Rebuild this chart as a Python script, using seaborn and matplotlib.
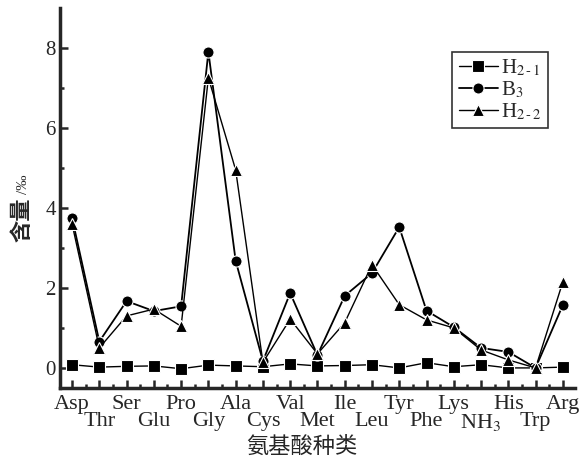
import numpy as np
import pandas as pd
import seaborn as sns
import matplotlib.pyplot as plt

# amino acids on the x axis
acids = ["Asp", "Thr", "Ser", "Glu", "Pro", "Gly", "Ala", "Cys", "Val", "Met",
         "Ile", "Leu", "Tyr", "Phe", "Lys", "NH$_3$", "His", "Trp", "Arg"]

h2_1 = [0.08, 0.02, 0.04, 0.05, -0.02, 0.07, 0.05, 0.03, 0.10, 0.05,
        0.06, 0.08, 0.00, 0.13, 0.03, 0.08, 0.00, 0.00, 0.02]
b3 = [3.75, 0.66, 1.67, 1.42, 1.54, 7.90, 2.68, 0.17, 1.87, 0.32,
      1.80, 2.37, 3.52, 1.43, 1.02, 0.50, 0.40, 0.00, 1.57]
h2_2 = [3.60, 0.50, 1.30, 1.47, 1.04, 7.25, 4.95, 0.14, 1.22, 0.35,
        1.13, 2.58, 1.58, 1.20, 1.00, 0.45, 0.20, 0.00, 2.15]

sns.set_style("ticks")
plt.rcParams['font.family'] = ['Liberation Serif', 'Noto Sans CJK SC']
plt.rcParams['mathtext.fontset'] = 'stix'

fig = plt.figure(figsize=(5.83, 4.58), dpi=100)
ax = fig.add_axes([0.103, 0.153, 0.883, 0.83])

idx = np.arange(len(acids))
series = [("H$_{2\\,\\text{-}\\,1}$", h2_1, "s", 1.0),
          ("B$_3$", b3, "o", 1.3),
          ("H$_{2\\,\\text{-}\\,2}$", h2_2, "^", 1.0)]
for name, vals, mk, lw in series:
    sns.lineplot(x=idx, y=vals, ax=ax, color="black", marker=mk, markersize=8,
                 markeredgecolor="white", markeredgewidth=0.8, linewidth=lw,
                 label=name)

ax.set_xlim(-0.44, 18.44)
ax.set_ylim(-0.5, 9.0)
ax.set_yticks([0, 2, 4, 6, 8])
ax.set_yticks([1, 3, 5, 7], minor=True)
ax.set_xticks(idx)
ax.set_xticks(idx[:-1] + 0.5, minor=True)
ax.set_xticklabels([])
# x labels on two staggered rows
for i, a in enumerate(acids):
    ax.text(i, -0.018 if i % 2 == 0 else -0.064, a, transform=ax.get_xaxis_transform(),
            ha="center", va="top", fontsize=16)
ax.tick_params(axis="y", labelsize=15)
ax.tick_params(which="major", direction="in", length=6, width=1.8, pad=3)
ax.tick_params(which="minor", direction="in", length=3, width=1.8)

sns.despine(ax=ax)
for s in ["left", "bottom"]:
    ax.spines[s].set_linewidth(2.5)

ax.set_xlabel("氨基酸种类", fontsize=16, family=['Noto Sans CJK SC'])
ax.xaxis.set_label_coords(0.47, -0.124)
# y label: large characters plus a smaller unit
fig.text(0.038, 0.52, "含量", rotation=90, fontsize=16, family=['Noto Sans CJK SC'],
         ha="center", va="center", fontweight="bold")
fig.text(0.040, 0.598, "/‰", rotation=90, fontsize=11, family=['Liberation Serif', 'DejaVu Sans'],
         ha="center", va="center")

leg = ax.legend(loc="upper right", bbox_to_anchor=(0.947, 0.885), fontsize=15,
                frameon=True, fancybox=False, edgecolor="black", handlelength=1.9,
                handletextpad=0.15, borderpad=0.3, labelspacing=0.05,
                borderaxespad=0)
leg.get_frame().set_linewidth(1.2)

fig.savefig("out.png", dpi=100)
